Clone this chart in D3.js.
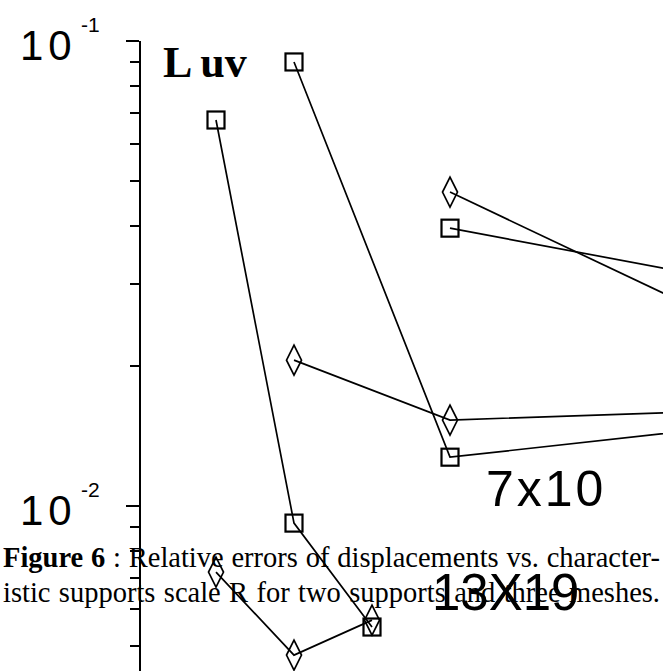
<!DOCTYPE html>
<html>
<head>
<meta charset="utf-8">
<script src="https://cdn.jsdelivr.net/npm/d3@7"></script>
<style>
  html, body { margin: 0; padding: 0; background: #fff; }
  svg { display: block; }
</style>
</head>
<body>
<script>
// Characteristic support scale R at which each mesh was evaluated
const scales13x19 = [1.0, 1.5, 2.0];
const scales10x14 = [1.5, 2.5, 4.0];
const scales7x10 = [2.5, 4.0];

// Relative displacement error L_uv, square support
const err13x19Square = [0.0673, 0.00915, 0.00547];
const err10x14Square = [0.0897, 0.01268, 0.01442];
const err7x10Square = [0.0394, 0.0317];

// Relative displacement error L_uv, diamond support
const err13x19Diamond = [0.00718, 0.00476, 0.00566];
const err10x14Diamond = [0.0205, 0.01524, 0.01585];
const err7x10Diamond = [0.0471, 0.0272];

// Log axis ticks
const majorTicks = [1e-1, 1e-2];
const majorExponents = ["-1", "-2"];
const minorTicks = [0.09, 0.08, 0.07, 0.06, 0.05, 0.04, 0.03, 0.02,
                    0.009, 0.008, 0.007, 0.006, 0.005];
const errorRange = [0.1, 0.0044];
const scaleRange = [1.0, 2.5];

const meshLabels = ["7x10", "13X19"];
const captionBold = "Figure 6";
const captionLines = [" : Relative errors of displacements vs. character-",
                      "istic supports scale R for two supports and three meshes."];

const W = 663, H = 671;
const svg = d3.select("body").append("svg")
  .attr("width", W).attr("height", H)
  .attr("viewBox", `0 0 ${W} ${H}`);

const x = d3.scaleLinear().domain(scaleRange).range([216, 450]);
const y = d3.scaleLog().domain(errorRange).range([40, 671]);

const series = [
  { r: scales13x19, v: err13x19Square, shape: "square" },
  { r: scales13x19, v: err13x19Diamond, shape: "diamond" },
  { r: scales10x14, v: err10x14Square, shape: "square" },
  { r: scales10x14, v: err10x14Diamond, shape: "diamond" },
  { r: scales7x10, v: err7x10Square, shape: "square" },
  { r: scales7x10, v: err7x10Diamond, shape: "diamond" }
];

// vertical axis: spine, long decade ticks, short minor ticks
const axisX = 139;
const axisG = svg.append("g").attr("transform", `translate(${axisX},0)`);
axisG.call(d3.axisLeft(y).tickValues(majorTicks).tickSize(13)
  .tickSizeOuter(0).tickFormat(""));
axisG.append("g").call(d3.axisLeft(y).tickValues(minorTicks).tickSize(9)
  .tickSizeOuter(0).tickFormat(""))
  .select(".domain").remove();
axisG.selectAll("path, line")
  .attr("stroke", "#000").attr("stroke-width", 2)
  .attr("shape-rendering", "crispEdges");

// decade labels written as 10 with a raised exponent
const decade = svg.append("g").attr("font-family", "'Liberation Sans', Arial, sans-serif")
  .attr("fill", "#000");
majorTicks.forEach((t, i) => {
  decade.append("text")
    .attr("x", 20).attr("y", y(t) + 20)
    .attr("font-size", 42).attr("letter-spacing", 5)
    .text("10");
  decade.append("text")
    .attr("x", 81).attr("y", y(t) - 8)
    .attr("font-size", 21)
    .text(majorExponents[i]);
});

// quantity label
const lab = svg.append("text")
  .attr("x", 163).attr("y", 77)
  .attr("font-family", "'Liberation Serif', 'Times New Roman', serif")
  .attr("font-size", 44).attr("font-weight", "bold").attr("fill", "#000");
lab.append("tspan").text("L");
lab.append("tspan").attr("dx", 8).text("uv");

// polylines joining each mesh/support result
const line = d3.line().x(d => x(d[0])).y(d => y(d[1]));
const plot = svg.append("g");
series.forEach(s => {
  const pts = s.r.map((r, i) => [r, s.v[i]]);
  plot.append("path")
    .attr("d", line(pts))
    .attr("fill", "none").attr("stroke", "#000").attr("stroke-width", 1.7);
});

// hollow markers
series.forEach(s => {
  s.r.forEach((r, i) => {
    const cx = x(r), cy = y(s.v[i]);
    if (s.shape === "square") {
      plot.append("rect")
        .attr("x", cx - 8.5).attr("y", cy - 8.5)
        .attr("width", 17).attr("height", 17)
        .attr("fill", "none").attr("stroke", "#000").attr("stroke-width", 2.2);
    } else {
      const p = d3.path();
      p.moveTo(cx, cy - 15); p.lineTo(cx + 7.5, cy);
      p.lineTo(cx, cy + 15); p.lineTo(cx - 7.5, cy); p.closePath();
      plot.append("path").attr("d", p.toString())
        .attr("fill", "none").attr("stroke", "#000").attr("stroke-width", 1.7);
    }
  });
});

// mesh annotations
const meshG = svg.append("g").attr("font-family", "'Liberation Sans', Arial, sans-serif")
  .attr("fill", "#000");
meshG.append("text").attr("x", 486).attr("y", 506)
  .attr("font-size", 50).attr("letter-spacing", 3).text(meshLabels[0]);
meshG.append("text").attr("x", 432).attr("y", 610)
  .attr("font-size", 51).text(meshLabels[1]);

// caption, justified across the width
const capG = svg.append("g")
  .attr("font-family", "'Liberation Serif', 'Times New Roman', serif")
  .attr("font-size", 28.5).attr("fill", "#000");
const left = 3, right = 660;
const l1 = capG.append("text").attr("x", left).attr("y", 567);
l1.append("tspan").attr("font-weight", "bold").text(captionBold);
l1.append("tspan").text(captionLines[0]);
const l2 = capG.append("text").attr("x", left).attr("y", 602).text(captionLines[1]);
[[l1, captionBold + captionLines[0]], [l2, captionLines[1]]].forEach(([t, str]) => {
  const natural = t.node().getComputedTextLength();
  const gaps = (str.match(/ /g) || []).length;
  if (gaps > 0) t.attr("word-spacing", (right - left - natural) / gaps);
});
</script>
</body>
</html>
